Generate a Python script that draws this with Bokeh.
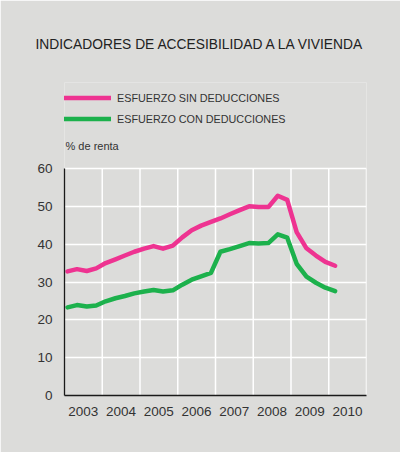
from bokeh.embed import file_html
from bokeh.resources import INLINE
from bokeh.models import ColumnDataSource, FixedTicker, Label, Legend, LegendItem, Range1d, Title
from bokeh.plotting import figure

# trimestres (posición en años) y series
periodos = [2003.08, 2003.33, 2003.59, 2003.84, 2004.09, 2004.35, 2004.60, 2004.85,
            2005.11, 2005.36, 2005.61, 2005.87, 2006.12, 2006.37, 2006.62, 2006.88,
            2007.13, 2007.38, 2007.64, 2007.89, 2008.14, 2008.40, 2008.65, 2008.90,
            2009.15, 2009.41, 2009.66, 2009.91, 2010.17]
sin_deducciones = [32.8, 33.4, 32.9, 33.6, 35.0, 36.0, 37.0, 38.0,
                   38.8, 39.5, 38.8, 39.6, 41.8, 43.7, 44.9, 45.9,
                   46.8, 47.9, 49.0, 50.0, 49.8, 49.8, 52.8, 51.7,
                   43.2, 38.9, 37.0, 35.3, 34.3]
con_deducciones = [23.3, 23.9, 23.5, 23.8, 24.9, 25.7, 26.3, 27.0,
                   27.5, 27.9, 27.5, 27.8, 29.3, 30.6, 31.5, 32.4,
                   38.0, 38.7, 39.5, 40.3, 40.2, 40.3, 42.6, 41.7,
                   34.8, 31.4, 29.8, 28.5, 27.6]
anios = [2003, 2004, 2005, 2006, 2007, 2008, 2009, 2010]
y_ticks = [0, 10, 20, 30, 40, 50, 60]

BG = "#dcdcda"
PINK = "#ee3391"
GREEN = "#1cb14c"
TXT = "#333333"
FONT = "Liberation Sans"

# el marco llega hasta la leyenda; la zona de datos (0-60) ocupa 227 px de 313
FRAME_H = 313
DATA_H = 227
y_top = y_ticks[-1] * FRAME_H / DATA_H

source = ColumnDataSource(data=dict(x=periodos, sin=sin_deducciones, con=con_deducciones))

p = figure(width=400, height=452, output_backend="svg", toolbar_location=None,
           x_range=Range1d(anios[0], anios[-1] + 1), y_range=Range1d(y_ticks[0], y_top),
           min_border_left=64, min_border_right=34, min_border_top=82, min_border_bottom=57)
p.background_fill_color = BG
p.border_fill_color = BG
p.outline_line_color = None

# líneas verticales de la rejilla, sólo entre 0 y 60
grid_x = anios[1:] + [anios[-1] + 1]
p.segment(x0=grid_x, y0=y_ticks[0], x1=grid_x, y1=y_ticks[-1], color="white", line_width=1.5)
p.xgrid.visible = False
p.ygrid.ticker = FixedTicker(ticks=y_ticks[1:])
p.ygrid.grid_line_color = "white"
p.ygrid.grid_line_width = 1.5

r_sin = p.line("x", "sin", source=source, color=PINK, line_width=4.5, line_join="round", line_cap="round")
r_con = p.line("x", "con", source=source, color=GREEN, line_width=4.5, line_join="round", line_cap="round")

# ejes
p.xaxis.ticker = FixedTicker(ticks=[a + 0.5 for a in anios])
p.xaxis.major_label_overrides = {a + 0.5: str(a) for a in anios}
p.yaxis.ticker = FixedTicker(ticks=y_ticks)
p.yaxis.bounds = (y_ticks[0], y_ticks[-1])
for ax in (p.xaxis, p.yaxis):
    ax.axis_line_color = "#1a1a1a"
    ax.axis_line_width = 1.3
    ax.major_tick_line_color = None
    ax.minor_tick_line_color = None
    ax.major_tick_out = 0
    ax.major_tick_in = 0
    ax.major_label_text_font = FONT
    ax.major_label_text_font_size = "13.5px"
    ax.major_label_text_color = TXT
p.xaxis.major_label_standoff = 11
p.yaxis.major_label_standoff = 12

legend = Legend(items=[LegendItem(label="ESFUERZO SIN DEDUCCIONES", renderers=[r_sin]),
                       LegendItem(label="ESFUERZO CON DEDUCCIONES", renderers=[r_con])],
                location=(-2, 266), glyph_width=49, glyph_height=21, label_standoff=6,
                spacing=0, padding=0, margin=0, background_fill_alpha=0,
                border_line_color=None, label_text_font=FONT, label_text_font_size="10.8px",
                label_text_color=TXT, label_height=21)
p.add_layout(legend)

p.add_layout(Label(x=1, y=250, x_units="screen", y_units="screen", text="% de renta",
                   text_baseline="middle", text_font=FONT, text_font_size="11px",
                   text_color=TXT))

p.add_layout(Title(text="INDICADORES DE ACCESIBILIDAD A LA VIVIENDA", align="left",
                   offset=-29, standoff=62, text_font=FONT, text_font_size="13.8px",
                   text_font_style="normal", text_color="#222222"), "above")

open("out.html", "w").write(file_html(p, INLINE))
